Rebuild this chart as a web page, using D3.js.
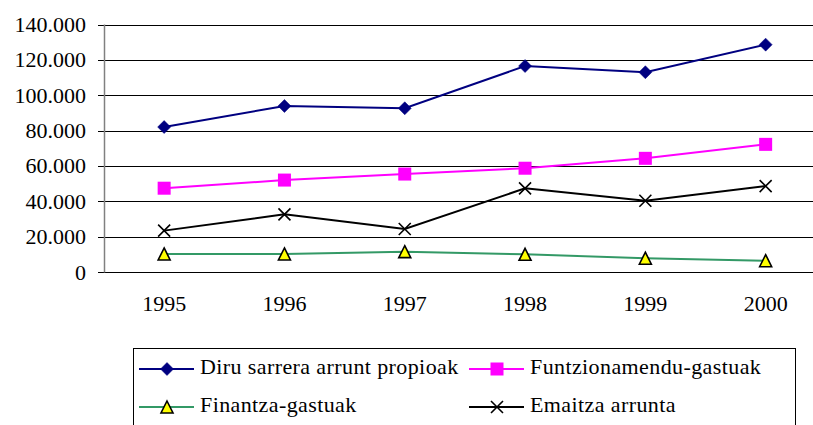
<!DOCTYPE html>
<html>
<head>
<meta charset="utf-8">
<script src="https://cdn.jsdelivr.net/npm/d3@7"></script>
<style>
html,body{margin:0;padding:0;background:#fff;}
svg{display:block;}
</style>
</head>
<body>
<svg id="chart" width="813" height="425"></svg>
<script>
const years = ["1995","1996","1997","1998","1999","2000"];
const diru = [82000, 93900, 92600, 116500, 113000, 128600];
const funtz = [47400, 52000, 55400, 58700, 64300, 72200];
const finantza = [10200, 10200, 11500, 10000, 7800, 6400];
const emaitza = [23400, 32600, 24300, 47300, 40300, 48600];
const yTicks = [0, 20000, 40000, 60000, 80000, 100000, 120000, 140000];
const seriesNames = ["Diru sarrera arrunt propioak","Funtzionamendu-gastuak","Finantza-gastuak","Emaitza arrunta"];

const series = [
  {name: seriesNames[0], values: diru, color: "#000080", marker: "diamond"},
  {name: seriesNames[1], values: funtz, color: "#FF00FF", marker: "square"},
  {name: seriesNames[2], values: finantza, color: "#339966", marker: "triangle"},
  {name: seriesNames[3], values: emaitza, color: "#000000", marker: "x"}
];

const FONT = "'Liberation Serif'";
const svg = d3.select("#chart");
const plotLeft = 104, band = 120.3, plotTop = 24.5, plotBottom = 272;
const x = d3.scaleBand().domain(years).range([plotLeft, plotLeft + band * years.length]).padding(0);
const y = d3.scaleLinear().domain([0, 140000]).range([plotBottom, plotTop]);
const cx = d => x(d) + x.bandwidth() / 2;

const loc = d3.formatLocale({decimal: ",", thousands: ".", grouping: [3], currency: ["", ""]});
const fmt = loc.format(",");

// gridlines
svg.append("g").selectAll("line").data(yTicks).join("line")
  .attr("x1", plotLeft - 6).attr("x2", 830)
  .attr("y1", d => Math.round(y(d)) + 0.5).attr("y2", d => Math.round(y(d)) + 0.5)
  .attr("stroke", "#000").attr("stroke-width", 1);

// left axis
svg.append("line").attr("x1", plotLeft + 0.5).attr("x2", plotLeft + 0.5)
  .attr("y1", y(140000)).attr("y2", y(0) + 0.5)
  .attr("stroke", "#808080").attr("stroke-width", 1.5);

// y labels
svg.append("g").selectAll("text").data(yTicks).join("text")
  .attr("x", 86).attr("y", d => y(d) + 7.5)
  .attr("text-anchor", "end").style("font-size", "22px").style("font-family", FONT).style("fill", "#000")
  .text(d => fmt(d));

// x labels
svg.append("g").selectAll("text").data(years).join("text")
  .attr("x", d => cx(d)).attr("y", 311)
  .attr("text-anchor", "middle").style("font-size", "22px").style("font-family", FONT).style("fill", "#000")
  .text(d => d);

function drawMarker(g, type, px, py, color) {
  if (type === "diamond") {
    const s = 6.5;
    g.append("path").attr("d", `M${px},${py - s}L${px + s},${py}L${px},${py + s}L${px - s},${py}Z`)
      .attr("fill", color).attr("stroke", color).attr("stroke-width", 0.5);
  } else if (type === "square") {
    const s = 6.5;
    g.append("rect").attr("x", px - s).attr("y", py - s).attr("width", 2 * s).attr("height", 2 * s)
      .attr("fill", color);
  } else if (type === "triangle") {
    const s = 6;
    g.append("path").attr("d", `M${px},${py - s}L${px + s},${py + s}L${px - s},${py + s}Z`)
      .attr("fill", "#FFFF00").attr("stroke", "#000").attr("stroke-width", 1.6);
  } else if (type === "x") {
    const s = 6;
    g.append("path").attr("d", `M${px - s},${py - s}L${px + s},${py + s}M${px - s},${py + s}L${px + s},${py - s}`)
      .attr("fill", "none").attr("stroke", color).attr("stroke-width", 1.6);
  }
}

const line = d3.line().x((d, i) => cx(years[i])).y(d => y(d));
series.forEach(s => {
  const g = svg.append("g");
  g.append("path").attr("d", line(s.values)).attr("fill", "none")
    .attr("stroke", s.color).attr("stroke-width", 2);
  s.values.forEach((v, i) => drawMarker(g, s.marker, cx(years[i]), y(v), s.color));
});

// legend
const lg = svg.append("g");
lg.append("rect").attr("x", 133.5).attr("y", 348.5).attr("width", 662).attr("height", 120)
  .attr("fill", "#fff").attr("stroke", "#000").attr("stroke-width", 1);
const legPos = [
  {x: 139, y: 369}, {x: 469, y: 369}, {x: 139, y: 407}, {x: 469, y: 407}
];
series.forEach((s, i) => {
  const p = legPos[i];
  lg.append("line").attr("x1", p.x).attr("x2", p.x + 55).attr("y1", p.y).attr("y2", p.y)
    .attr("stroke", s.color).attr("stroke-width", 2);
  drawMarker(lg, s.marker, p.x + 28, p.y, s.color);
  lg.append("text").attr("x", p.x + 61).attr("y", p.y + 5)
    .style("font-size", "22px").style("font-family", FONT).style("fill", "#000")
    .style("letter-spacing", "0.4px").text(s.name);
});
</script>
</body>
</html>
